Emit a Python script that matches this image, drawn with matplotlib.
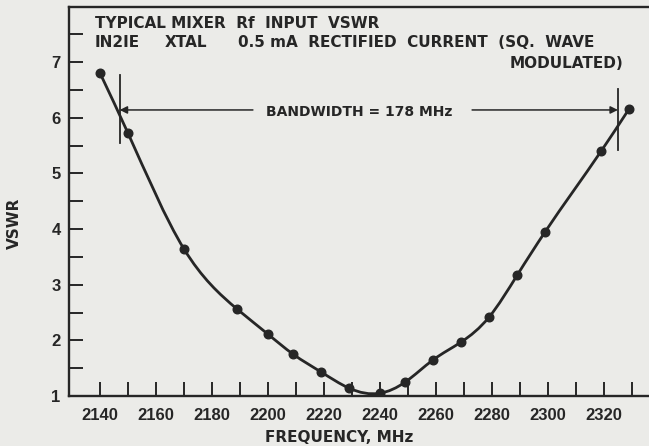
import numpy as np
import matplotlib
matplotlib.use("Agg")
import matplotlib.pyplot as plt
from matplotlib.path import Path
from matplotlib.patches import PathPatch

# Measured mixer input VSWR versus frequency
freq_mhz = [2140, 2150, 2170, 2189, 2200, 2209, 2219, 2229, 2240,
            2249, 2259, 2269, 2279, 2289, 2299, 2319, 2329]
vswr = [6.80, 5.72, 3.64, 2.56, 2.11, 1.75, 1.43, 1.14, 1.05,
        1.25, 1.65, 1.97, 2.42, 3.17, 3.95, 5.40, 6.16]

# Axis ticks
x_major = list(range(2140, 2321, 20))
x_minor = list(range(2150, 2331, 20))
y_major = [1, 2, 3, 4, 5, 6, 7]
y_minor = [1.5, 2.5, 3.5, 4.5, 5.5, 6.5, 7.5]

# Bandwidth markers
bw_low = 2147
bw_high = 2325
bw_level = 6.14

INK = "#262626"
PAPER = "#ebebe8"
FONT = dict(family="DejaVu Sans", fontweight="bold", color=INK)

fig = plt.figure(figsize=(6.49, 4.46), dpi=100, facecolor=PAPER)
W, H = 649, 446
ax = fig.add_axes([69 / W, 50 / H, 580 / W, 389 / H], facecolor=PAPER)
ax.set_xlim(2128.9, 2336.1)
ax.set_ylim(1.0, 7.99)


def spline_path(xs, ys):
    """Natural cubic spline through the points, as cubic Bezier segments."""
    x = np.asarray(xs, float)
    y = np.asarray(ys, float)
    n = len(x)
    h = np.diff(x)
    d = np.diff(y) / h
    A = np.zeros((n, n))
    b = np.zeros(n)
    A[0, 0] = A[-1, -1] = 1.0
    for i in range(1, n - 1):
        A[i, i - 1] = h[i - 1]
        A[i, i] = 2 * (h[i - 1] + h[i])
        A[i, i + 1] = h[i]
        b[i] = 6 * (d[i] - d[i - 1])
    M = np.linalg.solve(A, b)
    verts = [(x[0], y[0])]
    codes = [Path.MOVETO]
    for i in range(n - 1):
        s0 = d[i] - h[i] * (2 * M[i] + M[i + 1]) / 6
        s1 = d[i] + h[i] * (M[i] + 2 * M[i + 1]) / 6
        t = h[i] / 3.0
        verts += [(x[i] + t, y[i] + s0 * t),
                  (x[i + 1] - t, y[i + 1] - s1 * t),
                  (x[i + 1], y[i + 1])]
        codes += [Path.CURVE4] * 3
    return Path(verts, codes)


ax.add_patch(PathPatch(spline_path(freq_mhz, vswr), facecolor="none",
                       edgecolor=INK, linewidth=2.0, capstyle="round",
                       joinstyle="round", zorder=3))
ax.plot(freq_mhz, vswr, linestyle="none", marker="o", markersize=6.2,
        color=INK, zorder=4)

# Frame and ticks
for side in ("left", "top", "bottom"):
    ax.spines[side].set_linewidth(1.7)
    ax.spines[side].set_color(INK)
ax.spines["right"].set_visible(False)

ax.set_xticks(x_major)
ax.set_xticks(x_minor, minor=True)
ax.set_yticks(y_major)
ax.set_yticks(y_minor, minor=True)
ax.set_xticklabels([str(v) for v in x_major])
ax.set_yticklabels([str(v) for v in y_major])
ax.tick_params(which="both", direction="in", length=10, width=1.4,
               color=INK, top=False, right=False)
ax.tick_params(axis="x", which="major", pad=8.5, labelsize=12,
               labelcolor=INK)
ax.tick_params(axis="y", which="major", pad=6, labelsize=12,
               labelcolor=INK)
for lab in ax.get_xticklabels() + ax.get_yticklabels():
    lab.set_fontweight("bold")
    lab.set_family("Liberation Sans")

# Axis titles
fig.text(339 / W, 1 - 437 / H, "FREQUENCY, MHz", ha="center", va="center",
         fontsize=11, **FONT)
fig.text(14 / W, 1 - 223 / H, "VSWR", ha="center", va="center",
         rotation=90, fontsize=11, **FONT)

# Caption block
fig.text(95 / W, 1 - 23 / H, "TYPICAL MIXER  Rf  INPUT  VSWR",
         ha="left", va="center", fontsize=11, **FONT)
fig.text(95 / W, 1 - 42.5 / H, "IN2IE", ha="left", va="center",
         fontsize=11, **FONT)
fig.text(165 / W, 1 - 42.5 / H, "XTAL", ha="left", va="center",
         fontsize=11, **FONT)
fig.text(238 / W, 1 - 42.5 / H, "0.5 mA  RECTIFIED  CURRENT  (SQ.  WAVE",
         ha="left", va="center", fontsize=11, **FONT)
fig.text(623 / W, 1 - 63 / H, "MODULATED)", ha="right", va="center",
         fontsize=11, **FONT)

# Bandwidth annotation
ax.plot([bw_low, bw_low], [5.54, 6.77], color=INK, linewidth=1.3, zorder=2)
ax.plot([bw_high, bw_high], [5.42, 6.51], color=INK, linewidth=1.3, zorder=2)
ax.text(2232.7, bw_level - 0.04, f"BANDWIDTH = {bw_high - bw_low} MHz",
        ha="center", va="center", fontsize=10, **FONT)
arrow = dict(arrowstyle="-|>", color=INK, linewidth=1.1,
             mutation_scale=11, shrinkA=0, shrinkB=0)
ax.annotate("", xy=(bw_low, bw_level), xytext=(2194.6, bw_level),
            arrowprops=arrow)
ax.annotate("", xy=(bw_high, bw_level), xytext=(2272.9, bw_level),
            arrowprops=arrow)

fig.savefig("out.png", dpi=100, facecolor=PAPER)
